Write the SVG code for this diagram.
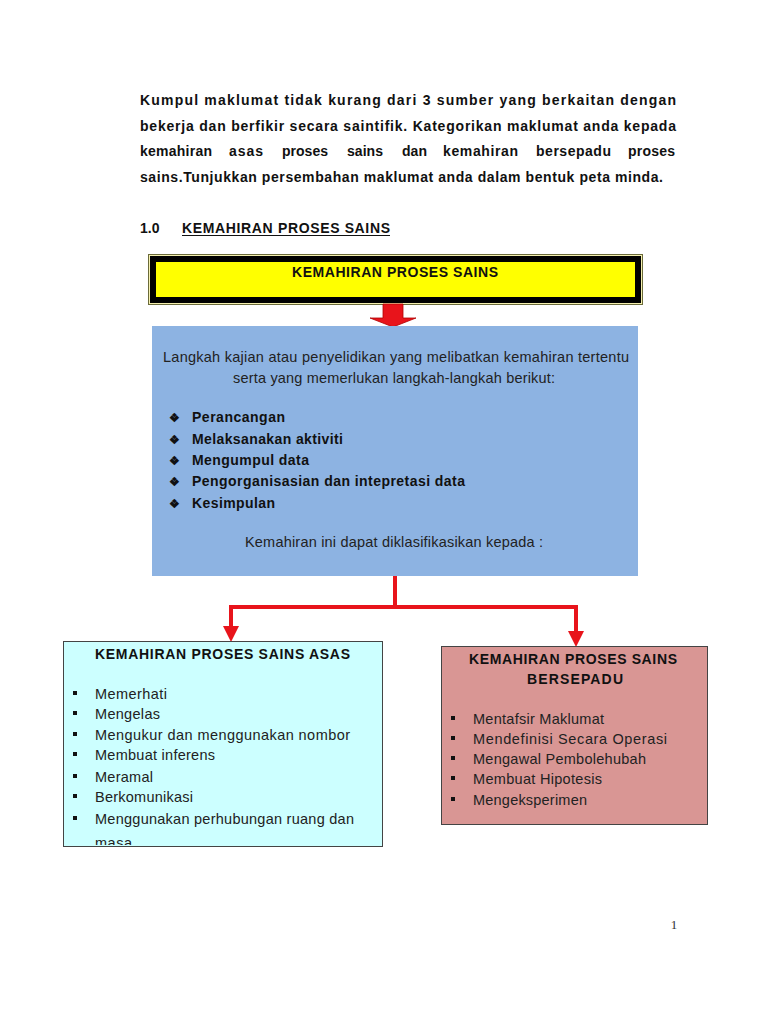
<svg xmlns="http://www.w3.org/2000/svg" width="768" height="1024" viewBox="0 0 768 1024">
<style>
.p{font-family:"Liberation Sans",Arial,sans-serif;font-size:14px;font-weight:bold;fill:#111}
.t{font-family:"Liberation Sans",Arial,sans-serif;font-size:14.5px;fill:#222}
.b{font-family:"Liberation Sans",Arial,sans-serif;font-size:14px;font-weight:bold;fill:#111}
.conn{fill:none;stroke:#e8141b;stroke-width:4}
</style>
<defs>
<marker id="ah" markerWidth="4" markerHeight="4" refX="2" refY="2" orient="auto" markerUnits="strokeWidth">
<path d="M0,0 L4,2 L0,4 Z" fill="#e8141b"/>
</marker>
<clipPath id="clipL"><rect x="64" y="642" width="318" height="203"/></clipPath>
</defs>
<rect width="768" height="1024" fill="#fff"/>
<g id="intro">
<text class="p" x="140" y="105" textLength="536" lengthAdjust="spacing">Kumpul maklumat tidak kurang dari 3 sumber yang berkaitan dengan</text>
<text class="p" x="140" y="131" textLength="536" lengthAdjust="spacing">bekerja dan berfikir secara saintifik. Kategorikan maklumat anda kepada</text>
<text class="p" y="156"><tspan x="140" textLength="72">kemahiran</tspan><tspan x="229" textLength="34">asas</tspan><tspan x="282" textLength="46">proses</tspan><tspan x="347" textLength="36">sains</tspan><tspan x="402" textLength="25">dan</tspan><tspan x="443" textLength="75">kemahiran</tspan><tspan x="536" textLength="75">bersepadu</tspan><tspan x="628" textLength="47">proses</tspan></text>
<text class="p" x="140" y="182" textLength="523" lengthAdjust="spacing">sains.Tunjukkan persembahan maklumat anda dalam bentuk peta minda.</text>
<text class="p" x="140" y="233">1.0</text>
<text class="p" x="182" y="233" textLength="208" lengthAdjust="spacing">KEMAHIRAN PROSES SAINS</text>
<line x1="182" y1="235.5" x2="390" y2="235.5" stroke="#111" stroke-width="1.2"/>
</g>
<g id="title">
<rect x="148.5" y="254.5" width="494" height="50" fill="#f5f0b0" stroke="#6b6b3a" stroke-width="1"/>
<rect x="153" y="259" width="485" height="41" fill="#ffff00" stroke="#000" stroke-width="6"/>
<text class="b" x="292" y="277" textLength="206" lengthAdjust="spacing">KEMAHIRAN PROSES SAINS</text>
</g>
<g id="arrow1">
<path d="M383,304 L403,304 L403,318 L416,318 L393,327 L370,318 L383,318 Z" fill="#e8141b" stroke="#b00000" stroke-width="0.8"/>
</g>
<g id="main">
<rect x="152" y="326" width="486" height="250" fill="#8db3e2"/>
<text class="t" x="163" y="362" textLength="466" lengthAdjust="spacing">Langkah kajian atau penyelidikan yang melibatkan kemahiran tertentu</text>
<text class="t" x="233" y="383" textLength="322" lengthAdjust="spacing">serta yang memerlukan langkah-langkah berikut:</text>
<g class="b">
<text x="169" y="422" font-size="12">❖</text><text x="192" y="422" textLength="93" lengthAdjust="spacing">Perancangan</text>
<text x="169" y="444" font-size="12">❖</text><text x="192" y="444" textLength="151" lengthAdjust="spacing">Melaksanakan aktiviti</text>
<text x="169" y="465" font-size="12">❖</text><text x="192" y="465" textLength="117" lengthAdjust="spacing">Mengumpul data</text>
<text x="169" y="486" font-size="12">❖</text><text x="192" y="486" textLength="273" lengthAdjust="spacing">Pengorganisasian dan intepretasi data</text>
<text x="169" y="508" font-size="12">❖</text><text x="192" y="508" textLength="83" lengthAdjust="spacing">Kesimpulan</text>
</g>
<text class="t" x="245" y="547" textLength="298" lengthAdjust="spacing">Kemahiran ini dapat diklasifikasikan kepada :</text>
</g>
<g id="connectors">
<path class="conn" d="M395,576 L395,607 L231,607 L231,634" marker-end="url(#ah)"/>
<path class="conn" d="M395,607 L576,607 L576,639" marker-end="url(#ah)"/>
</g>
<g id="asas">
<rect x="63.5" y="641.5" width="319" height="205" fill="#ccffff" stroke="#444" stroke-width="1"/>
<text class="b" x="95" y="659" textLength="255" lengthAdjust="spacing">KEMAHIRAN PROSES SAINS ASAS</text>
<g clip-path="url(#clipL)">
<g fill="#111">
<rect x="73" y="691" width="4" height="4"/><rect x="73" y="711" width="4" height="4"/><rect x="73" y="732" width="4" height="4"/><rect x="73" y="752" width="4" height="4"/><rect x="73" y="774" width="4" height="4"/><rect x="73" y="794" width="4" height="4"/><rect x="73" y="816" width="4" height="4"/>
</g>
<text class="t" x="95" y="699" textLength="72" lengthAdjust="spacing">Memerhati</text>
<text class="t" x="95" y="719" textLength="65" lengthAdjust="spacing">Mengelas</text>
<text class="t" x="95" y="740" textLength="255" lengthAdjust="spacing">Mengukur  dan menggunakan nombor</text>
<text class="t" x="95" y="760" textLength="120" lengthAdjust="spacing">Membuat inferens</text>
<text class="t" x="95" y="782" textLength="58" lengthAdjust="spacing">Meramal</text>
<text class="t" x="95" y="802" textLength="98" lengthAdjust="spacing">Berkomunikasi</text>
<text class="t" x="95" y="824" textLength="259" lengthAdjust="spacing">Menggunakan perhubungan ruang dan</text>
<text class="t" x="95" y="848" textLength="37" lengthAdjust="spacing">masa</text>
</g>
</g>
<g id="bersepadu">
<rect x="441.5" y="646.5" width="266" height="178" fill="#d99694" stroke="#444" stroke-width="1"/>
<text class="b" x="469" y="664" textLength="208" lengthAdjust="spacing">KEMAHIRAN PROSES SAINS</text>
<text class="b" x="527" y="684" textLength="96" lengthAdjust="spacing">BERSEPADU</text>
<g fill="#111">
<rect x="451" y="716" width="4" height="4"/><rect x="451" y="736" width="4" height="4"/><rect x="451" y="756" width="4" height="4"/><rect x="451" y="776" width="4" height="4"/><rect x="451" y="797" width="4" height="4"/>
</g>
<text class="t" x="473" y="724" textLength="131" lengthAdjust="spacing">Mentafsir Maklumat</text>
<text class="t" x="473" y="744" textLength="194" lengthAdjust="spacing">Mendefinisi Secara Operasi</text>
<text class="t" x="473" y="764" textLength="173" lengthAdjust="spacing">Mengawal Pembolehubah</text>
<text class="t" x="473" y="784" textLength="129" lengthAdjust="spacing">Membuat Hipotesis</text>
<text class="t" x="473" y="805" textLength="114" lengthAdjust="spacing">Mengeksperimen</text>
</g>
<text x="674" y="929" text-anchor="middle" font-family="Liberation Serif,serif" font-size="13" fill="#333">1</text>
</svg>
